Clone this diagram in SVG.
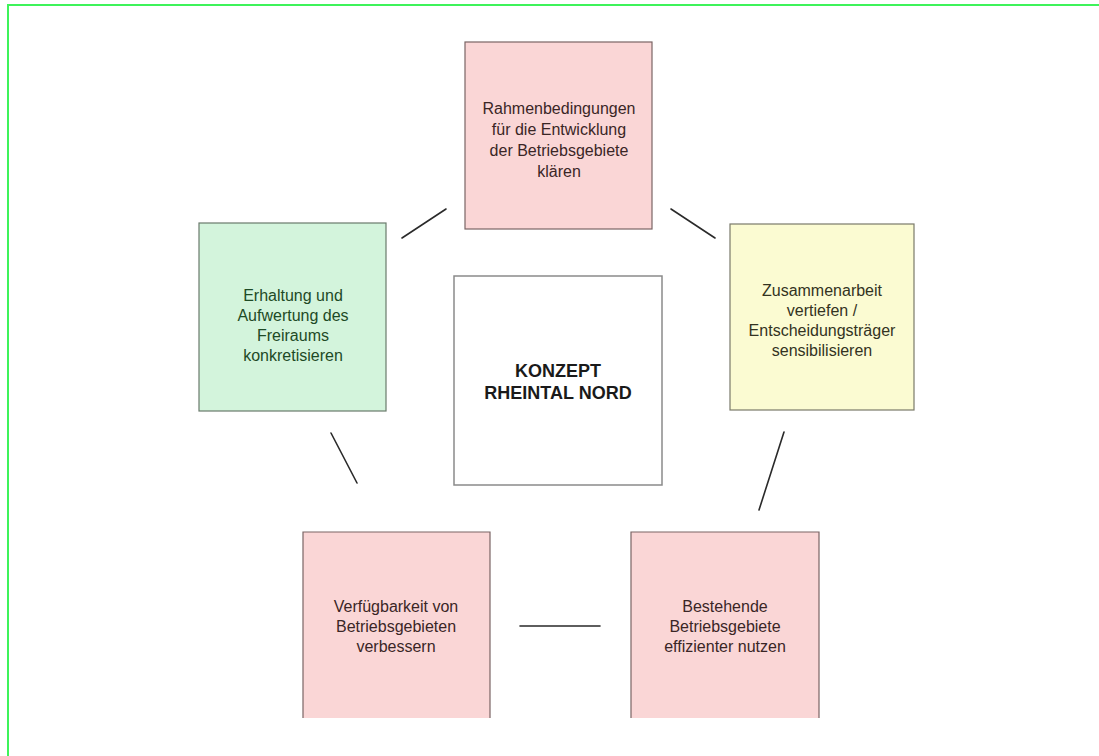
<svg xmlns="http://www.w3.org/2000/svg" width="1099" height="756" viewBox="0 0 1099 756">
<style>
.t{font-family:"Liberation Sans",Arial,sans-serif;font-size:16px;text-anchor:middle}
.b{font-family:"Liberation Sans",Arial,sans-serif;font-size:18px;font-weight:bold;text-anchor:middle;fill:#1a1a1a}
.pink{fill:#fad6d6}
.edge{fill:none;stroke:#7a6464;stroke-width:1.2}
.conn{stroke:#2a2a2a;stroke-width:1.6;stroke-linecap:round}
</style>
<rect width="1099" height="756" fill="#ffffff"/>
<rect x="8" y="5" width="1100" height="760" fill="none" stroke="#3ef35a" stroke-width="2"/>
<g id="connectors">
<line class="conn" x1="402" y1="238" x2="446" y2="209"/>
<line class="conn" x1="671" y1="209" x2="715" y2="238"/>
<line class="conn" x1="331" y1="433" x2="357" y2="483"/>
<line class="conn" x1="784" y1="432" x2="759" y2="510"/>
<line class="conn" x1="520" y1="626" x2="600" y2="626"/>
</g>
<g id="n-top">
<rect class="pink" x="465" y="42" width="187" height="187"/>
<rect class="edge" x="465" y="42" width="187" height="187"/>
<text class="t" fill="#3a2626"><tspan x="559" y="114">Rahmenbedingungen</tspan><tspan x="559" y="135">für die Entwicklung</tspan><tspan x="559" y="156">der Betriebsgebiete</tspan><tspan x="559" y="177">klären</tspan></text>
</g>
<g id="n-left">
<rect x="199" y="223" width="187" height="188" fill="#d3f4dc" stroke="#6a7a6c" stroke-width="1.2"/>
<text class="t" fill="#1e4a26"><tspan x="293" y="301">Erhaltung und</tspan><tspan x="293" y="321">Aufwertung des</tspan><tspan x="293" y="341">Freiraums</tspan><tspan x="293" y="361">konkretisieren</tspan></text>
</g>
<g id="n-right">
<rect x="730" y="224" width="184" height="186" fill="#fbfbd2" stroke="#7a7a6a" stroke-width="1.2"/>
<text class="t" fill="#333322"><tspan x="822" y="296">Zusammenarbeit</tspan><tspan x="822" y="316">vertiefen /</tspan><tspan x="822" y="336">Entscheidungsträger</tspan><tspan x="822" y="356">sensibilisieren</tspan></text>
</g>
<g id="n-center">
<rect x="454" y="276" width="208" height="209" fill="#ffffff" stroke="#8a8a8a" stroke-width="1.5"/>
<text class="b"><tspan x="558" y="377">KONZEPT</tspan><tspan x="558" y="399">RHEINTAL NORD</tspan></text>
</g>
<g id="n-bottom-left">
<rect class="pink" x="303" y="532" width="187" height="186"/>
<path class="edge" d="M303,718 V532 H490 V718"/>
<text class="t" fill="#3a2626"><tspan x="396" y="612">Verfügbarkeit von</tspan><tspan x="396" y="632">Betriebsgebieten</tspan><tspan x="396" y="652">verbessern</tspan></text>
</g>
<g id="n-bottom-right">
<rect class="pink" x="631" y="532" width="188" height="186"/>
<path class="edge" d="M631,718 V532 H819 V718"/>
<text class="t" fill="#3a2626"><tspan x="725" y="612">Bestehende</tspan><tspan x="725" y="632">Betriebsgebiete</tspan><tspan x="725" y="652">effizienter nutzen</tspan></text>
</g>
</svg>
